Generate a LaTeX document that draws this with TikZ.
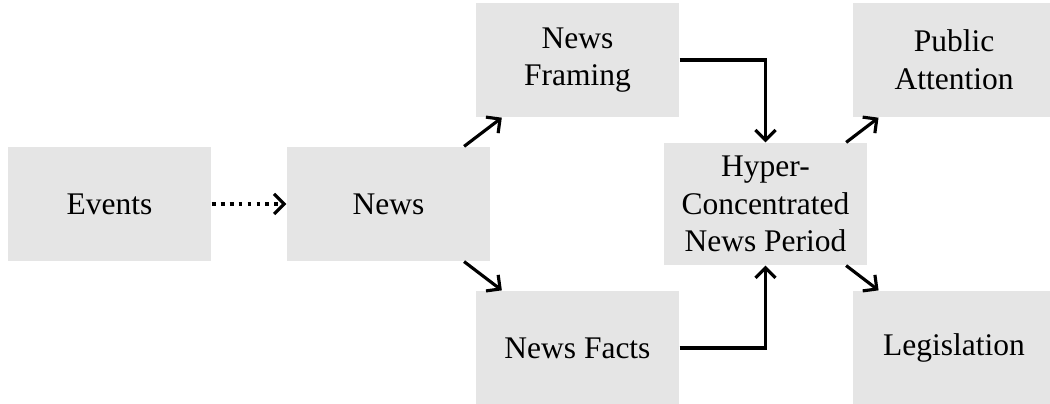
\documentclass[tikz,border=0pt]{standalone}
\usepackage{fontspec}
\setmainfont{Liberation Serif}
\usetikzlibrary{arrows.meta}
\tikzstyle{stage} = [rectangle, minimum width=2.265cm, minimum height=1.272cm, inner sep=2.5pt, align=center, fill=gray!20]
\tikzstyle{hub} = [stage, minimum height=1.361cm]
\tikzstyle{arrow} = [line width=1pt,-{Straight Barb[length=3.2pt,width=6.4pt]}]
\tikzstyle{loose} = [arrow, dash pattern=on 1.25pt off 1.6pt]

\begin{document}
\begin{tikzpicture}
            \useasboundingbox (0,0) rectangle (11.717,-4.508);
            \node [stage] at (1.222,-2.276) (events) {Events};
            \node [stage] at (4.335,-2.276) (news) {News};
            \node [stage] at (6.444,-0.670) (framing) {News\\Framing};
            \node [stage] at (6.444,-3.883) (facts) {News Facts};
            \node [hub] at (8.542,-2.276) (period) {Hyper-\\Concentrated\\News Period};
            \node [stage] at (10.646,-0.670) (attention) {Public\\Attention};
            \node [stage] at (10.646,-3.883) (law) {Legislation};

            \draw [loose] (events) -- (news);
            \draw [arrow] (news) -- (framing);
            \draw [arrow] (news) -- (facts);
            \draw [arrow] (framing) -| (period);
            \draw [arrow] (facts) -| (period);
            \draw [arrow] (period) -- (attention);
            \draw [arrow] (period) -- (law);
            \end{tikzpicture}
\end{document}
